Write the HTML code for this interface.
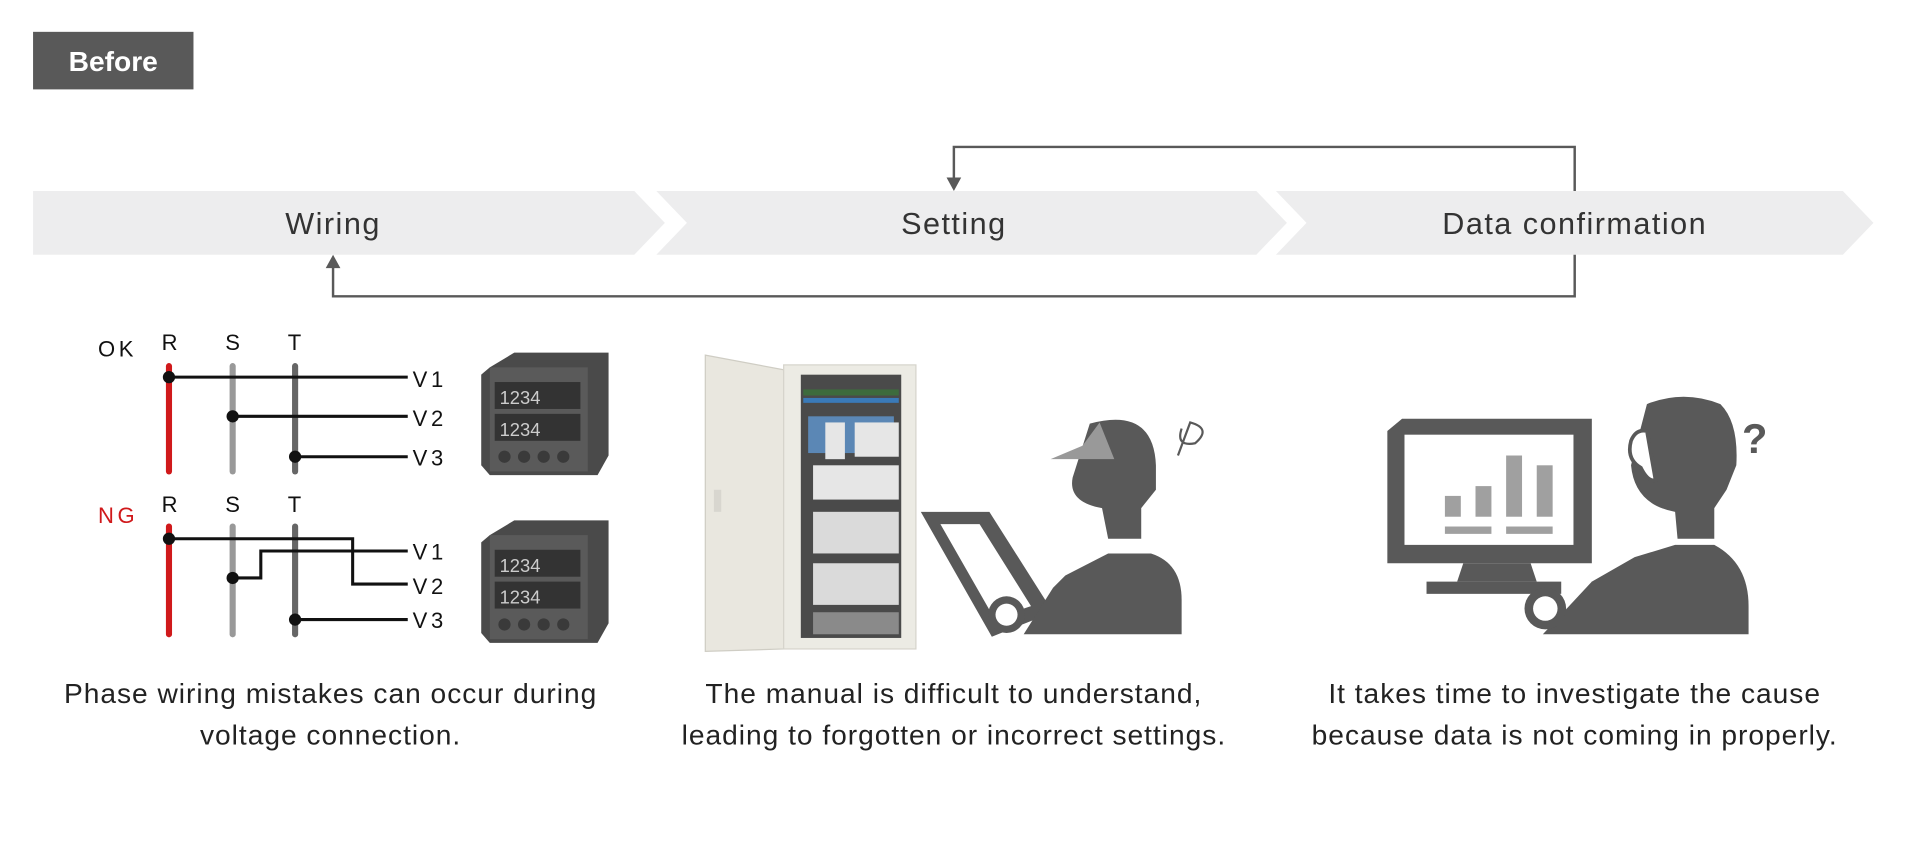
<!DOCTYPE html>
<html><head><meta charset="utf-8"><style>
html,body{margin:0;padding:0;background:#fff;}
svg{display:block;}
text{font-family:"Liberation Sans",sans-serif;}
</style></head><body>
<svg width="1920" height="851" viewBox="0 0 1568 695" preserveAspectRatio="none" xmlns="http://www.w3.org/2000/svg">
<rect width="1568" height="695" fill="#fff"/>
<rect x="27" y="26" width="131" height="47" fill="#595959"/>
<text x="92.5" y="58" font-size="23" font-weight="bold" fill="#fff" text-anchor="middle">Before</text>
<polygon points="27,156 518,156 543,182 518,208 27,208" fill="#ededee"/>
<polygon points="536,156 1026,156 1051,182 1026,208 536,208 561,182" fill="#ededee"/>
<polygon points="1042,156 1505,156 1530,182 1505,208 1042,208 1067,182" fill="#ededee"/>
<g font-size="25" fill="#333" text-anchor="middle" letter-spacing="1.2">
<text x="272" y="191">Wiring</text>
<text x="779" y="191">Setting</text>
<text x="1286" y="191">Data confirmation</text>
</g>
<polyline points="1286,156 1286,120 779,120 779,146" fill="none" stroke="#595959" stroke-width="2"/>
<polygon points="773,145 785,145 779,156" fill="#595959"/>
<polyline points="1286,208 1286,242 272,242 272,218" fill="none" stroke="#595959" stroke-width="2"/>
<polygon points="266,219 278,219 272,208" fill="#595959"/>
<g font-size="18" fill="#111">
<text x="80" y="291" letter-spacing="3">OK</text>
<text x="132" y="286">R</text><text x="184" y="286">S</text><text x="235" y="286">T</text>
<text x="80" y="427" fill="#d0191b" letter-spacing="3">NG</text>
<text x="132" y="418">R</text><text x="184" y="418">S</text><text x="235" y="418">T</text>
<text x="337" y="316" letter-spacing="3">V1</text><text x="337" y="348" letter-spacing="3">V2</text><text x="337" y="380" letter-spacing="3">V3</text>
<text x="337" y="457" letter-spacing="3">V1</text><text x="337" y="485" letter-spacing="3">V2</text><text x="337" y="513" letter-spacing="3">V3</text>
</g>
<g stroke-linecap="round" stroke-width="5">
<line x1="138" y1="299" x2="138" y2="385" stroke="#d0191b"/>
<line x1="190" y1="299" x2="190" y2="385" stroke="#999"/>
<line x1="241" y1="299" x2="241" y2="385" stroke="#666"/>
<line x1="138" y1="430" x2="138" y2="518" stroke="#d0191b"/>
<line x1="190" y1="430" x2="190" y2="518" stroke="#999"/>
<line x1="241" y1="430" x2="241" y2="518" stroke="#666"/>
</g>
<g stroke="#111" stroke-width="2.5" fill="none">
<line x1="138" y1="308" x2="333" y2="308"/>
<line x1="190" y1="340" x2="333" y2="340"/>
<line x1="241" y1="373" x2="333" y2="373"/>
<polyline points="138,440 288,440 288,477 333,477"/>
<polyline points="190,472 213,472 213,450 333,450"/>
<line x1="241" y1="506" x2="333" y2="506"/>
</g>
<g fill="#111">
<circle cx="138" cy="308" r="5"/><circle cx="190" cy="340" r="5"/><circle cx="241" cy="373" r="5"/>
<circle cx="138" cy="440" r="5"/><circle cx="190" cy="472" r="5"/><circle cx="241" cy="506" r="5"/>
</g>
<g id="m1">
<polygon points="400,300 420,288 497,288 497,372 488,388 400,388 393,380 393,306" fill="#4a4a4a"/>
<rect x="400" y="300" width="80" height="85" fill="#5a5a5a"/>
<rect x="404" y="312" width="70" height="22" fill="#333"/>
<rect x="404" y="338" width="70" height="22" fill="#333"/>
<text x="408" y="330" font-size="15" fill="#ccc" font-family="Liberation Mono">1234</text>
<text x="408" y="356" font-size="15" fill="#ccc" font-family="Liberation Mono">1234</text>
<circle cx="412" cy="373" r="5" fill="#3a3a3a"/><circle cx="428" cy="373" r="5" fill="#3a3a3a"/><circle cx="444" cy="373" r="5" fill="#3a3a3a"/><circle cx="460" cy="373" r="5" fill="#3a3a3a"/>
</g>
<use href="#m1" transform="translate(0,137)"/>
<polygon points="576,290 640,302 640,530 576,532" fill="#e9e7df" stroke="#cfcdc4"/>
<rect x="640" y="298" width="108" height="232" fill="#ecebe4" stroke="#d6d4cc"/>
<rect x="654" y="306" width="82" height="215" fill="#4a4a4a"/>
<rect x="656" y="318" width="78" height="5" fill="#3d6b3d"/>
<rect x="656" y="325" width="78" height="4" fill="#3a7ab8"/>
<rect x="660" y="340" width="70" height="30" fill="#5b87b5"/>
<rect x="674" y="345" width="16" height="30" fill="#e6e6e6"/>
<rect x="698" y="345" width="36" height="28" fill="#e6e6e6"/>
<rect x="664" y="380" width="70" height="28" fill="#e6e6e6"/>
<rect x="664" y="418" width="70" height="34" fill="#dadada"/>
<rect x="664" y="460" width="70" height="34" fill="#dadada"/>
<rect x="664" y="500" width="70" height="18" fill="#8a8a8a"/>
<rect x="583" y="400" width="6" height="18" fill="#d8d6cf"/>
<g fill="#595959">
<path d="M752,418 L808,418 L860,500 L810,520 Z M768,428 L800,428 L842,495 L812,505 Z" fill-rule="evenodd"/>
<path d="M890,346 Q942,332 944,380 L944,400 L932,415 L932,440 L905,440 L900,415 Q872,410 876,390 Z"/>
<path d="M870,470 L905,452 L940,452 Q965,460 965,490 L965,518 L836,518 L860,480 Z"/>
<circle cx="822" cy="502" r="15"/>
</g>
<circle cx="822" cy="502" r="9" fill="#fff"/>
<polygon points="884,364 898,345 910,375 858,375" fill="#999"/>
<path d="M962,372 L972,345 Q990,350 976,362 Q960,365 965,350" fill="none" stroke="#595959" stroke-width="1.8"/>
<path d="M1145,342 L1300,342 L1300,460 L1133,460 L1133,352 Z" fill="#595959"/>
<rect x="1147" y="355" width="138" height="90" fill="#fff"/>
<g fill="#a0a0a0">
<rect x="1180" y="405" width="13" height="17"/><rect x="1205" y="397" width="13" height="25"/>
<rect x="1230" y="372" width="13" height="50"/><rect x="1255" y="380" width="13" height="42"/>
<rect x="1180" y="430" width="38" height="6"/><rect x="1230" y="430" width="38" height="6"/>
</g>
<polygon points="1195,460 1250,460 1255,475 1190,475" fill="#595959"/>
<rect x="1165" y="475" width="110" height="10" fill="#595959"/>
<g fill="#595959">
<path d="M1345,330 Q1375,318 1405,330 Q1420,345 1418,380 L1410,400 L1400,415 L1400,440 L1370,440 L1368,418 Q1335,412 1332,380 Z"/>
<path d="M1335,455 L1368,445 L1400,445 Q1428,460 1428,495 L1428,518 L1260,518 L1300,475 Z"/>
<circle cx="1262" cy="497" r="17"/>
</g>
<path d="M1340,382 Q1328,375 1332,360 Q1336,350 1345,352 L1352,392 Q1346,394 1340,382 Z" fill="#fff" stroke="#595959" stroke-width="3"/>
<circle cx="1262" cy="497" r="10" fill="#fff"/>
<text x="1433" y="370" font-size="34" font-weight="bold" fill="#595959" text-anchor="middle">?</text>
<g font-size="23" fill="#222" text-anchor="middle" letter-spacing="0.8">
<text x="270" y="574">Phase wiring mistakes can occur during</text>
<text x="270" y="608">voltage connection.</text>
<text x="779" y="574">The manual is difficult to understand,</text>
<text x="779" y="608">leading to forgotten or incorrect settings.</text>
<text x="1286" y="574">It takes time to investigate the cause</text>
<text x="1286" y="608">because data is not coming in properly.</text>
</g>
</svg>
</body></html>
